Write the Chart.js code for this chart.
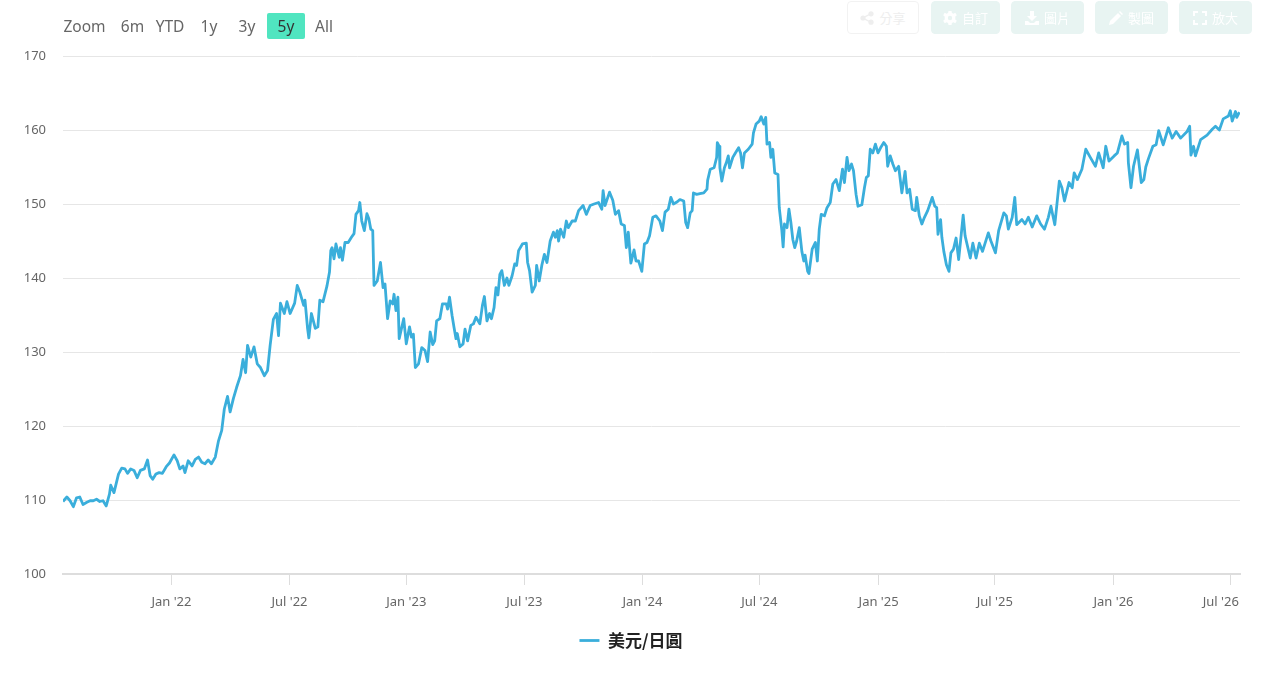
<!DOCTYPE html>
<html>
<head>
<meta charset="utf-8">
<title>美元/日圓</title>
<script src="https://cdn.jsdelivr.net/npm/chart.js@4"></script>
<style>
html, body { margin: 0; padding: 0; background: #fff; }
#wrap { position: relative; width: 1264px; height: 688px; overflow: hidden; font-family: "Noto Sans", sans-serif; }
#wrap canvas { position: absolute; left: 0; top: 0; }
.range { position: absolute; top: 13px; height: 26px; line-height: 27px; font-size: 15.5px; color: #666; text-align: center; }
.range.on { background: #50e5c0; color: #333; border-radius: 2px; }
.tool { position: absolute; top: 1px; height: 31px; border: 1px solid #e8f4f2; background: #e8f4f2; border-radius: 4px; color: #fff; font: 13px/31px "Noto Sans CJK TC", sans-serif; text-align: center; }
.tool.share { background: #fff; border-color: #f2f2f2; color: #eee; }
.tool svg { vertical-align: -2px; margin-right: 5px; fill: currentColor; }
</style>
</head>
<body>
<div id="wrap">
	<canvas id="fxChart" width="1264" height="688" style="width:1264px;height:688px"></canvas>
	<div class="range" style="left:63px;width:43px">Zoom</div>
	<div class="range" style="left:117px;width:31px">6m</div>
	<div class="range" style="left:152px;width:36px">YTD</div>
	<div class="range" style="left:191px;width:36px">1y</div>
	<div class="range" style="left:229px;width:36px">3y</div>
	<div class="range on" style="left:267px;width:38px">5y</div>
	<div class="range" style="left:306px;width:36px">All</div>
	<div class="tool share" style="left:847px;width:70px"><svg width="14" height="14" viewBox="0 0 14 14"><circle cx="11" cy="2.8" r="2.6"/><circle cx="11" cy="11.2" r="2.6"/><circle cx="3" cy="7" r="2.6"/><path d="M3 6 11 2v1.6L4 7l7 3.4V12L3 8z"/></svg>分享</div>
	<div class="tool" style="left:931px;width:67px"><svg width="14" height="14" viewBox="0 0 14 14"><path d="M5.5 0h3l.4 2 1.6.8 1.8-1 1.5 2.5-1.5 1.3v2.8l1.5 1.3-1.5 2.5-1.8-1-1.6.8-.4 2h-3l-.4-2-1.6-.8-1.8 1L.2 9.7l1.5-1.3V5.6L.2 4.3l1.5-2.5 1.8 1 1.6-.8zM7 4.8a2.2 2.2 0 1 0 0 4.4 2.2 2.2 0 0 0 0-4.4z"/></svg>自訂</div>
	<div class="tool" style="left:1011px;width:71px"><svg width="14" height="14" viewBox="0 0 14 14"><path d="M5 0h4v5h3L7 10 2 5h3zM0 10h3l2 2h4l2-2h3v4H0z"/></svg>圖片</div>
	<div class="tool" style="left:1095px;width:71px"><svg width="14" height="14" viewBox="0 0 14 14"><path d="M0 14l1-4 8-8 3 3-8 8zM10 1l1-1 3 3-1 1z"/></svg>製圖</div>
	<div class="tool" style="left:1179px;width:71px"><svg width="14" height="14" viewBox="0 0 14 14"><path d="M0 0h5v2H2v3H0zM9 0h5v5h-2V2H9zM0 9h2v3h3v2H0zM12 9h2v5H9v-2h3z"/></svg>放大</div>
</div>
<script>
// days since the first sample
var days = [
	0,6,11,16,21,26,31,37,42,47,
	52,57,62,67,72,74,79,86,91,96,
	100,105,110,115,120,126,131,135,139,144,
	149,154,160,165,172,177,181,186,189,194,
	200,205,210,215,220,225,230,236,241,246,
	250,255,259,264,269,275,279,283,286,291,
	296,301,306,312,317,321,326,331,334,337,
	343,347,352,359,363,367,373,375,379,381,
	385,391,395,398,403,409,413,415,417,420,
	423,428,430,433,437,442,447,451,454,458,
	460,463,467,471,474,477,480,482,487,492,
	496,499,503,507,511,513,516,519,521,528,
	532,537,540,543,546,551,556,561,565,569,
	573,576,579,584,588,594,596,599,603,606,
	609,611,615,620,623,627,632,636,640,646,
	650,653,657,661,664,668,671,674,677,680,
	684,688,691,696,700,703,706,712,718,720,
	723,727,732,734,738,742,746,750,755,760,
	763,766,768,771,776,780,783,789,794,799,
	806,811,817,823,830,835,837,840,847,852,
	856,861,865,870,873,876,880,885,888,892,
	897,901,905,909,914,919,925,929,933,938,
	942,946,952,956,962,965,968,972,975,977,
	982,987,993,998,999,1003,1009,1013,1014,1017,
	1018,1021,1025,1028,1031,1033,1038,1042,1047,1050,
	1053,1056,1062,1068,1070,1074,1079,1082,1086,1089,
	1091,1095,1097,1100,1103,1108,1110,1114,1116,1118,
	1122,1125,1128,1131,1134,1137,1141,1145,1148,1150,
	1154,1156,1161,1166,1169,1172,1175,1180,1184,1189,
	1193,1198,1203,1208,1211,1215,1218,1222,1225,1229,
	1232,1238,1242,1245,1248,1251,1255,1259,1263,1267,
	1272,1276,1278,1282,1286,1290,1295,1300,1305,1308,
	1312,1316,1321,1323,1327,1331,1335,1340,1347,1351,
	1354,1356,1360,1362,1365,1369,1373,1376,1380,1384,
	1388,1392,1395,1398,1406,1410,1415,1420,1425,1434,
	1438,1445,1450,1458,1462,1465,1471,1475,1478,1486,
	1491,1496,1502,1509,1515,1521,1527,1531,1537,1544,
	1548,1552,1559,1564,1567,1572,1579,1585,1592,1600,
	1605,1612,1616,1621,1629,1634,1641,1645,1650,1651,
	1655,1659,1665,1671,1675,1678,1682,1689,1694,1698,
	1705,1713,1719,1725,1732,1742,1746,1748,1752,1755,
	1763,1773,1781,1786,1792,1798,1806,1809,1812,1817,
	1819,1823
];
// USD/JPY at those days
var rates = [
	109.8,110.4,109.9,109.1,110.3,110.4,109.4,109.7,109.9,109.9,
	110.1,109.8,109.9,109.2,110.8,112,111,113.5,114.3,114.2,
	113.6,114.2,114,113,114,114.2,115.4,113.3,112.8,113.5,
	113.7,113.6,114.5,115,116.1,115.3,114.2,114.6,113.7,115.3,
	114.6,115.5,115.8,115.1,114.9,115.4,114.9,115.8,118,119.4,
	122.3,124,121.9,123.7,125.2,126.8,129,127.2,130.9,129.3,
	130.7,128.4,127.9,126.8,127.5,130.9,134.4,135.2,132.2,136.6,
	135.2,136.8,135.2,136.6,139,138.1,136.3,137,133.2,131.9,
	135.2,133.2,133.4,137,136.8,138.9,140.8,143.7,144.1,142.6,
	144.6,142.8,144.1,142.4,144.8,144.8,145.5,146,148.6,149.1,
	150.2,147.7,146.4,148.7,148,146.6,146.4,139,139.6,142.1,
	138.7,139.2,134.5,136.9,136.5,137.8,135.6,137.4,131.8,134.5,
	131.1,133.4,132,132.4,127.9,128.4,130.6,130.2,128.7,132.7,
	131,131.5,134.2,134.5,136.5,136.5,135.8,137.4,134.9,133.3,
	131.8,132.5,130.7,131.1,133.1,131.5,133.6,133.8,134.7,133.8,
	136.3,137.5,134.2,135.2,134.5,136,138.7,137.7,140.5,141,
	139,140,139,140.3,141.9,141.7,143.7,144.6,144.7,142.1,
	141,138.1,139,141.7,139.6,141.7,143.2,142.1,145,146.2,
	145.5,146.4,145,146.6,145.5,147.7,146.8,147.7,147.7,149.1,
	149.8,148.6,149.8,150,150.2,149.3,151.8,149.8,151.6,150.5,
	148.6,149.1,147.3,147.1,144.1,146.2,142,143.8,142.3,142.3,
	140.9,144.6,144.8,145.7,148.2,148.4,147.7,146.4,148.9,149.3,
	150.9,150,150.3,150.6,150.4,147.5,146.8,148.8,149.1,151.5,
	151.3,151.4,151.5,152,153.2,154.7,154.9,156.3,158.3,157.8,
	154.9,153.1,154.9,155.6,156.5,154.9,156.3,156.9,157.6,156.9,
	154.9,156.9,157.4,158.1,159.6,160.8,161.2,161.8,160.8,161.7,
	158.1,158.3,156.3,157.4,154.2,154,149.5,146.4,144.2,147.3,
	146.8,149.3,147.5,145.2,144.1,145,146.8,143.6,142.3,143.1,
	140.9,140.6,143.9,144.8,142.3,146.6,148.6,148.4,149.5,150.2,
	152.7,153.3,151.8,154.7,152.9,156.3,154.5,155.4,154.5,151.3,
	149.7,149.9,152.2,153.6,153.8,157.4,156.9,158.1,156.9,157.6,
	158.3,157.8,155.1,156.5,155.4,154.5,155.1,151.5,154.4,151.5,
	152,149.3,149.1,150.9,148.4,147.3,148.2,149.1,150.9,149.7,
	149.5,145.9,147.9,145.5,143.6,141.8,140.9,143.4,143.9,145.4,
	142.5,145.9,148.5,145.7,142.7,144.7,142.7,144.7,143.6,146.1,
	145,143.4,146.4,148.8,148.4,146.6,148.2,150.9,147.2,147.9,
	147.3,148.2,146.9,148.4,147.3,146.6,148.2,149.7,147.2,153.1,
	152.2,150.4,152.9,152.2,154.2,153.3,154.7,157.4,156.3,155.1,
	156.9,154.9,157.8,155.8,156.5,156.9,159.2,158.1,158.3,155.6,
	152.2,155.1,157.3,152.9,153.3,155,156.1,157.8,158,159.9,
	158,160.3,158.9,159.8,158.9,159.8,160.5,156.6,157.8,156.5,
	158.7,159.3,160.1,160.5,160,161.5,161.9,162.6,161.2,162.5,
	161.7,162.4
];
var tickDays = [168,351,532,715,898,1079,1264,1444,1628,1810];
var tickLabels = ["Jan '22","Jul '22","Jan '23","Jul '23","Jan '24","Jul '24","Jan '25","Jul '25","Jan '26","Jul '26"];
var seriesName = "美元/日圓";

var points = [];
for (var i = 0; i < days.length; i++) {
	points.push({x: days[i], y: rates[i]});
}

//the legend sits centred on the page, not on the plot
var legendNudge = {
	id: 'legendNudge',
	afterLayout: function (chart) {
		chart.legend.left += 11;
		chart.legend.right += 11;
	}
};

new Chart("fxChart", {
	type: 'line',
	plugins: [legendNudge],
	data: {
		datasets: [{
			label: seriesName,
			data: points,
			borderColor: "#3aaedb",
			backgroundColor: "#3aaedb",
			borderWidth: 2.8,
			borderJoinStyle: 'round',
			pointRadius: 0,
			tension: 0,
			fill: false
		}]
	},
	options: {
		responsive: false,
		animation: false,
		events: [],
		layout: {padding: {left: 0, right: 24, top: 56, bottom: 29}},
		plugins: {
			tooltip: {enabled: false},
			legend: {
				position: 'bottom',
				labels: {
					usePointStyle: true,
					pointStyle: 'line',
					pointStyleWidth: 20,
					color: "#222",
					boxHeight: 8,
					padding: 10,
					font: {family: '"Noto Sans CJK TC"', size: 17, weight: 'bold'}
				}
			}
		},
		scales: {
			x: {
				type: 'linear',
				min: 0,
				max: 1824,
				afterBuildTicks: function (scale) {
					scale.ticks = tickDays.map(function (d) { return {value: d}; });
				},
				afterFit: function (scale) {
					scale.height = 48;
					scale.paddingRight = 0; //label overhang must not shrink the plot
				},
				grid: {drawOnChartArea: false, drawTicks: true, tickLength: 11, color: "#dddddd"},
				border: {color: "#dddddd", width: 2},
				ticks: {
					autoSkip: false,
					maxRotation: 0,
					padding: 9,
					color: "#666",
					font: {family: '"Noto Sans"', size: 13},
					callback: function (value, index) {
						//last label is pulled left so it stays inside the plot edge
						return index == tickLabels.length - 1 ? tickLabels[index] + "      " : tickLabels[index];
					}
				}
			},
			y: {
				min: 100,
				max: 170,
				afterFit: function (scale) { scale.width = 63; },
				grid: {color: "#e6e6e6", drawTicks: false},
				border: {display: false},
				ticks: {
					stepSize: 10,
					padding: 17,
					color: "#666",
					font: {family: '"Noto Sans"', size: 13}
				}
			}
		}
	}
});
</script>
</body>
</html>
